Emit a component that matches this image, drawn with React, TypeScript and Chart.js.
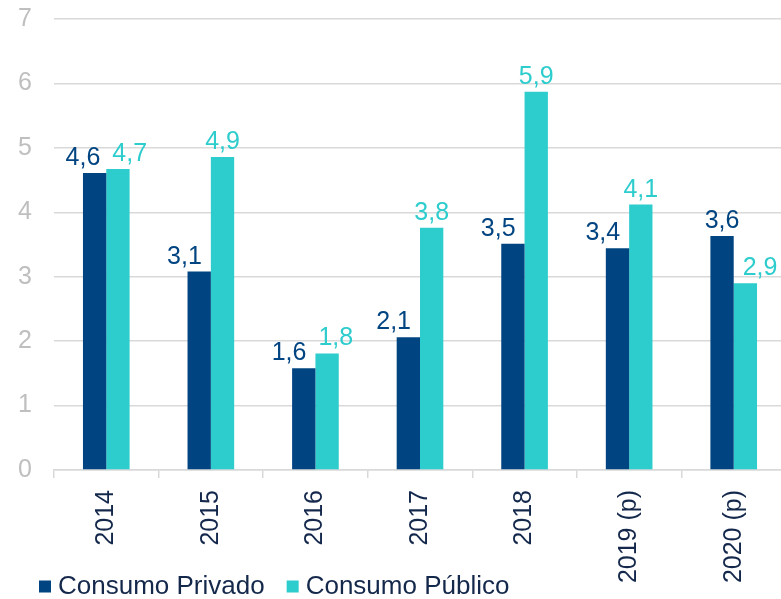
import React, { useEffect, useRef } from 'react';
import { Chart, registerables } from 'chart.js';

Chart.register(...registerables);

const categories = ['2014', '2015', '2016', '2017', '2018', '2019 (p)', '2020 (p)'];
const consumoPrivado = [4.61, 3.08, 1.58, 2.06, 3.51, 3.44, 3.63];
const consumoPublico = [4.67, 4.86, 1.81, 3.76, 5.87, 4.12, 2.9];
const yTicks = [0, 1, 2, 3, 4, 5, 6, 7];
const seriesNames = ['Consumo Privado', 'Consumo Público'];

const NAVY = '#004481';
const AQUA = '#2DCCCD';
const TEXT = '#14284B';
const GRID = '#D9D9D9';
const FONT = "'Liberation Sans', Arial, sans-serif";

const fmt = (v: number) => v.toFixed(1).replace('.', ',');

const labelPlugin = {
  id: 'barLabels',
  afterDatasetsDraw(chart: any) {
    const ctx = chart.ctx as CanvasRenderingContext2D;
    const m0 = chart.getDatasetMeta(0);
    const m1 = chart.getDatasetMeta(1);
    ctx.save();
    ctx.font = `25px ${FONT}`;
    ctx.textBaseline = 'alphabetic';
    ctx.textAlign = 'center';
    const GAP = 8, PAD = 9, SEP = 12, H = 19;
    for (let i = 0; i < categories.length; i++) {
      const a: any = m0.data[i];
      const b: any = m1.data[i];
      const ta = fmt(consumoPrivado[i]);
      const tb = fmt(consumoPublico[i]);
      const wa = ctx.measureText(ta).width;
      const wb = ctx.measureText(tb).width;
      const ya = a.y - GAP;
      const yb = b.y - GAP;
      let xa = a.x;
      let xb = b.x;
      let fixedA = false, fixedB = false;
      const bLeft = b.x - b.width / 2;
      const aRight = a.x + a.width / 2;
      if (ya > b.y && xa + wa / 2 > bLeft - PAD) { xa = bLeft - PAD - wa / 2; fixedA = true; }
      if (yb > a.y && xb - wb / 2 < aRight + PAD) { xb = aRight + PAD + wb / 2; fixedB = true; }
      if (Math.abs(ya - yb) < H) {
        const gap = (xb - wb / 2) - (xa + wa / 2);
        if (gap < SEP) {
          const need = SEP - gap;
          if (fixedA && !fixedB) xb += need;
          else if (fixedB && !fixedA) xa -= need;
          else { xa -= need / 2; xb += need / 2; }
        }
      }
      ctx.fillStyle = NAVY;
      ctx.fillText(ta, xa, ya);
      ctx.fillStyle = AQUA;
      ctx.fillText(tb, xb, yb);
    }
    ctx.restore();
  },
};

const legendPlugin = {
  id: 'bottomLegend',
  afterDraw(chart: any) {
    const ctx = chart.ctx as CanvasRenderingContext2D;
    ctx.save();
    ctx.font = `26px ${FONT}`;
    ctx.textBaseline = 'middle';
    ctx.textAlign = 'left';
    let x = 39;
    const y = 586.5;
    chart.data.datasets.forEach((ds: any) => {
      ctx.fillStyle = ds.backgroundColor;
      ctx.fillRect(x, y - 6, 12, 12);
      ctx.fillStyle = TEXT;
      ctx.fillText(ds.label, x + 19, y);
      x += 19 + ctx.measureText(ds.label).width + 22;
    });
    ctx.restore();
  },
};

export default function App() {
  const ref = useRef<HTMLCanvasElement | null>(null);

  useEffect(() => {
    if (!ref.current) return;
    const chart = new Chart(ref.current, {
      type: 'bar',
      data: {
        labels: categories,
        datasets: [
          { label: seriesNames[0], data: consumoPrivado, backgroundColor: NAVY, borderWidth: 0 },
          { label: seriesNames[1], data: consumoPublico, backgroundColor: AQUA, borderWidth: 0 },
        ],
      },
      options: {
        responsive: false,
        animation: false,
        layout: { padding: { top: 19, right: 4, bottom: 0, left: 0 } },
        datasets: { bar: { categoryPercentage: 0.446, barPercentage: 1 } },
        plugins: {
          legend: { display: false },
          tooltip: { enabled: false },
        },
        scales: {
          x: {
            offset: true,
            grid: { drawOnChartArea: false, drawTicks: true, tickLength: 8, color: GRID, lineWidth: 1.5, offset: true },
            border: { display: true, color: GRID, width: 1.5 },
            ticks: {
              autoSkip: false,
              maxRotation: 90,
              minRotation: 90,
              padding: 12,
              color: TEXT,
              font: { family: FONT, size: 25 },
            },
            afterFit: (s: any) => { s.height = 129; s.paddingTop = 0; s.paddingBottom = 0; },
          },
          y: {
            min: 0,
            max: 7,
            grid: { color: GRID, lineWidth: 1.5, drawTicks: false },
            border: { display: false },
            ticks: {
              stepSize: 1,
              padding: 22,
              color: '#BFBFBF',
              font: { family: FONT, size: 25 },
            },
            afterBuildTicks: (s: any) => { s.ticks = yTicks.map((v) => ({ value: v })); },
            afterFit: (s: any) => { s.width = 54; s.paddingTop = 0; s.paddingBottom = 0; },
          },
        },
      },
      plugins: [labelPlugin, legendPlugin],
    });
    return () => chart.destroy();
  }, []);

  return (
    <div style={{ position: 'fixed', left: 0, top: 0, width: 781, height: 599, overflow: 'hidden', background: '#fff' }}>
      <canvas ref={ref} width={790} height={599} style={{ display: 'block', width: 790, height: 599 }} />
    </div>
  );
}
